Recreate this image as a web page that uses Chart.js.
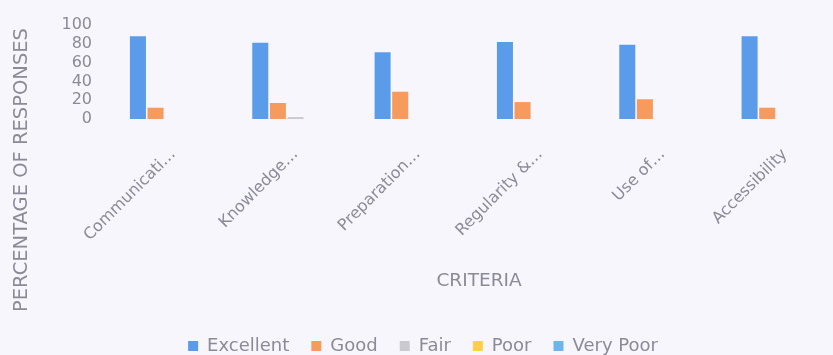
<!DOCTYPE html>
<html><head><meta charset="utf-8">
<script src="https://cdn.jsdelivr.net/npm/chart.js@4"></script>
<style>
html,body{margin:0;padding:0;overflow:hidden;background:#f7f6fc;width:833px;height:355px}
#wrap{position:absolute;left:0;top:0;width:856px;height:355px}
</style></head>
<body><div id="wrap"><canvas id="c" width="856" height="355"></canvas></div>
<script>
const categories = ["Communicati\u2026", "Knowledge\u2026", "Preparation\u2026", "Regularity &\u2026", "Use of\u2026", "Accessibility"];
const seriesNames = ["Excellent", "Good", "Fair", "Poor", "Very Poor"];
const excellent = [88, 81, 71, 82, 79, 88];
const good = [12, 17, 29, 18, 21, 12];
const fair = [0, 2, 0, 0, 0, 0];
const poor = [0, 0, 0, 0, 0, 0];
const veryPoor = [0, 0, 0, 0, 0, 0];
const yTicks = [0, 20, 40, 60, 80, 100];
const xTitle = "CRITERIA";
const yTitle = "PERCENTAGE OF RESPONSES";

const colors = ["#5b9cea", "#f79a5e", "#c9c9cf", "#ffcf45", "#6fb5ec"];
const textColor = "#8b8b98";
const fontFamily = "'DejaVu Sans', sans-serif";

const yTitlePlugin = {
  id: 'yTitle',
  afterDraw(chart) {
    const ctx = chart.ctx;
    ctx.save();
    ctx.translate(22, 170);
    ctx.rotate(-Math.PI / 2);
    ctx.fillStyle = textColor;
    ctx.font = "19.5px " + fontFamily;
    ctx.textAlign = 'center';
    ctx.textBaseline = 'middle';
    ctx.fillText(yTitle, 0, 0);
    ctx.restore();
  }
};
const bgPlugin = {
  id: 'bg',
  beforeDraw(chart) {
    const ctx = chart.ctx;
    ctx.save();
    ctx.fillStyle = '#f7f6fc';
    ctx.fillRect(0, 0, chart.width, chart.height);
    ctx.restore();
  }
};

const allSeries = [excellent, good, fair, poor, veryPoor];
new Chart(document.getElementById('c'), {
  type: 'bar',
  data: {
    labels: categories,
    datasets: allSeries.map((d, i) => ({
      label: seriesNames[i],
      data: d,
      backgroundColor: colors[i],
      borderWidth: 0,
      categoryPercentage: 0.72,
      barPercentage: 0.91
    }))
  },
  options: {
    responsive: false,
    animation: false,
    devicePixelRatio: 1,
    layout: { padding: { left: 0, right: 10, top: 25, bottom: -10 } },
    plugins: {
      legend: {
        position: 'bottom',
        labels: { color: textColor, font: { family: fontFamily, size: 18 }, boxWidth: 10, boxHeight: 10, padding: 22 }
      },
      tooltip: { enabled: false }
    },
    scales: {
      x: {
        grid: { display: false, drawTicks: false },
        border: { display: false },
        ticks: { color: textColor, font: { family: fontFamily, size: 16 }, minRotation: 45, maxRotation: 45, padding: 26, autoSkip: false },
        title: { display: true, text: xTitle, color: textColor, font: { family: fontFamily, size: 18.5 }, padding: { top: 0, bottom: 23 } },
        afterFit(scale) { scale.height = 196; }
      },
      y: {
        min: 0, max: 100,
        afterBuildTicks(scale) { scale.ticks = yTicks.map(v => ({ value: v })); },
        grid: { display: false, drawTicks: false },
        border: { display: false },
        ticks: { color: textColor, font: { family: fontFamily, size: 16 }, padding: 20, autoSkip: false },
        afterFit(scale) { scale.width = 112; scale.paddingTop = 0; scale.paddingBottom = 0; }
      }
    }
  },
  plugins: [bgPlugin, yTitlePlugin]
});
</script>
</body></html>
